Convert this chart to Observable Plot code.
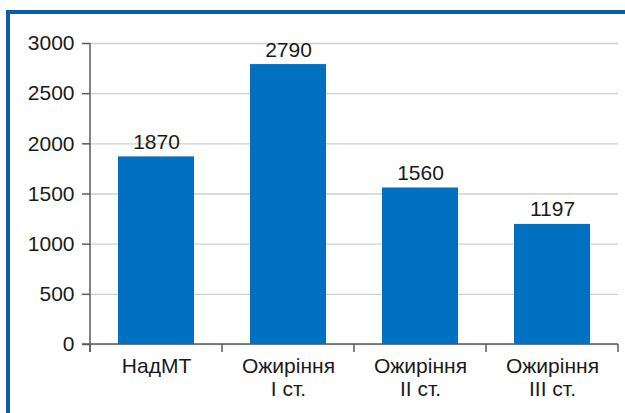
<!DOCTYPE html>
<html>
<head>
<meta charset="utf-8">
<script src="https://cdn.jsdelivr.net/npm/d3@7"></script>
<script src="https://cdn.jsdelivr.net/npm/@observablehq/plot@0.6"></script>
<style>
  html, body { margin: 0; padding: 0; background: #fff; }
  #wrap { position: relative; width: 625px; height: 413px; overflow: hidden; }
  #frame { position: absolute; left: 6px; top: 10px; right: 0; bottom: 0;
           border-left: 4px solid #0a5bb0; border-top: 4px solid #0a5bb0; pointer-events: none; }
  #chart { position: absolute; left: 0; top: 0; }
</style>
</head>
<body>
<div id="wrap"><div id="chart"></div><div id="frame"></div></div>
<script>
const categories = ["НадМТ", "Ожиріння\nI ст.", "Ожиріння\nII ст.", "Ожиріння\nIII ст."];
const values = [1870, 2790, 1560, 1197];
const yTicks = [0, 500, 1000, 1500, 2000, 2500, 3000];

const data = categories.map((c, i) => ({ category: c, value: values[i] }));
const FONT = "Liberation Sans, Arial, Helvetica, sans-serif";
const axisColor = "#5a5a5a";
const FS = 21;

const plot = Plot.plot({
  width: 625,
  height: 413,
  marginLeft: 90,
  marginRight: 7,
  marginTop: 43,
  marginBottom: 69,
  style: { fontFamily: FONT, fontSize: FS + "px", color: "#1a1a1a", background: "transparent" },
  x: { domain: categories, paddingInner: 0.424, paddingOuter: 0.212, label: null },
  y: { domain: [0, 3000], label: null },
  marks: [
    Plot.gridY(yTicks, { stroke: "#cfcfcf", strokeOpacity: 1, strokeWidth: 1.4 }),
    Plot.barY(data, { x: "category", y: "value", fill: "#0070c0" }),
    Plot.text(data, { x: "category", y: "value", text: d => String(d.value), dy: -8, lineAnchor: "bottom", fill: "#1a1a1a", fontSize: FS }),
    Plot.axisY(yTicks, { tickSize: 8, tickPadding: 8, stroke: axisColor, strokeWidth: 1.5, fontSize: FS, fill: "#1a1a1a", label: null, tickFormat: d => String(d) }),
    Plot.axisX({ tickSize: 0, tickPadding: 13, fontSize: FS, fill: "#1a1a1a", lineHeight: 1.07, label: null })
  ]
});

// draw axis lines and category-boundary ticks from the scales
const xs = plot.scale("x");
const ys = plot.scale("y");
const svg = d3.select(plot);
const y0 = ys.apply(0);
const yTop = ys.apply(3000);
const gap = (xs.step - xs.bandwidth) / 2;
const bounds = categories.map(c => xs.apply(c) - gap);
bounds.push(xs.apply(categories[categories.length - 1]) + xs.bandwidth + gap);
const g = svg.append("g").attr("stroke", axisColor).attr("stroke-width", 1.5).attr("fill", "none");
g.append("line").attr("x1", bounds[0]).attr("x2", bounds[0]).attr("y1", yTop).attr("y2", y0 + 8);
g.append("line").attr("x1", bounds[0] - 8).attr("x2", bounds[bounds.length - 1]).attr("y1", y0).attr("y2", y0);
bounds.forEach(b => g.append("line").attr("x1", b).attr("x2", b).attr("y1", y0).attr("y2", y0 + 8));

document.getElementById("chart").appendChild(plot);
</script>
</body>
</html>
